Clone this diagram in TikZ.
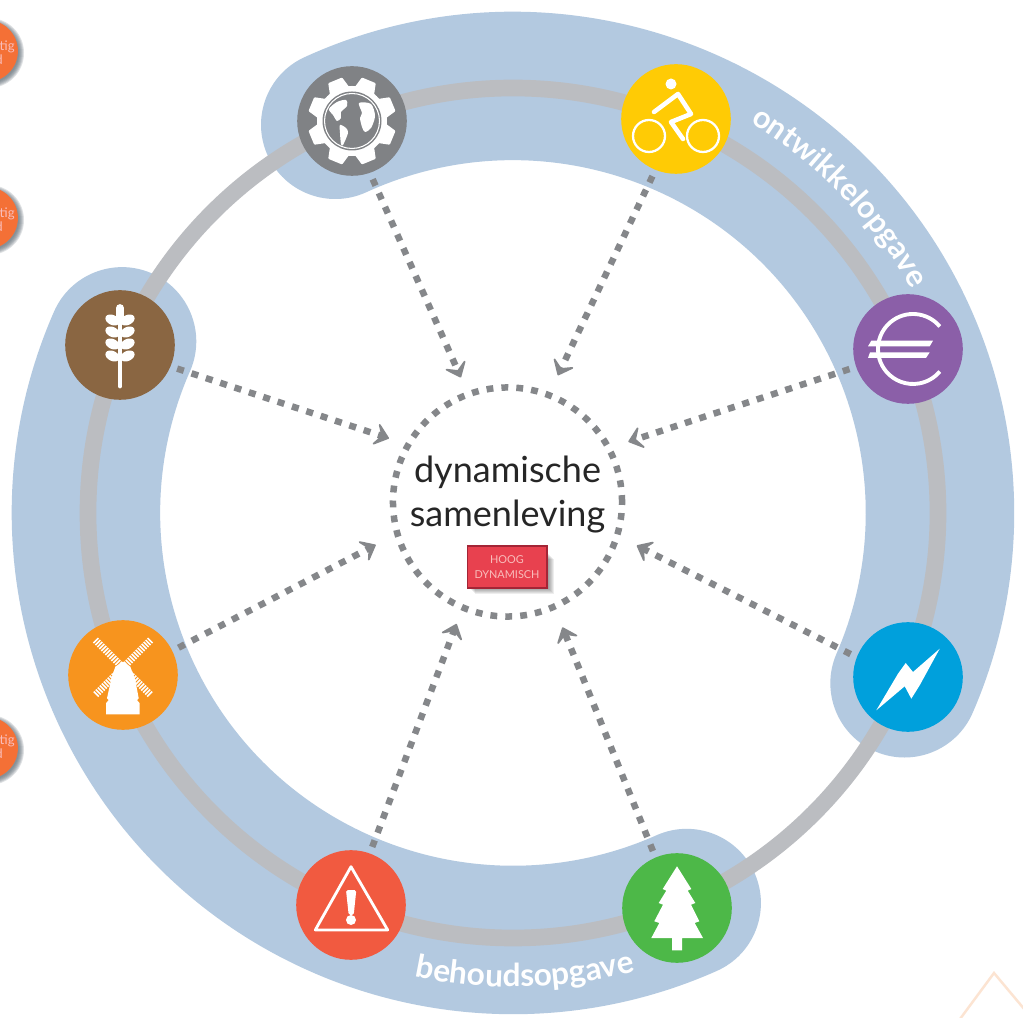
\documentclass[tikz,border=0pt]{standalone}
\usepackage{fontspec}
\setmainfont{Lato}
\usetikzlibrary{arrows.meta,decorations.text}
\definecolor{bandc}{HTML}{B3C9E0}
\definecolor{ringc}{HTML}{BBBDC1}
\definecolor{dashc}{HTML}{85878A}
\definecolor{cgray}{HTML}{808285}
\definecolor{cyellow}{HTML}{FFCB05}
\definecolor{cpurple}{HTML}{8B5FA8}
\definecolor{cblue}{HTML}{00A0DC}
\definecolor{cgreen}{HTML}{4DB848}
\definecolor{cred}{HTML}{F15A40}
\definecolor{corange}{HTML}{F7941E}
\definecolor{cbrown}{HTML}{8A6642}
\definecolor{sideor}{HTML}{F47036}
\definecolor{sideshade}{HTML}{5F6B75}
\definecolor{boxred}{HTML}{E8414F}
\definecolor{boxline}{HTML}{A32536}
\definecolor{boxtext}{HTML}{F9BDBB}
\definecolor{tri}{HTML}{FCE4D2}
\tikzset{
  band/.style={draw=bandc,line width=84.5pt,line cap=round},
  ring/.style={draw=ringc,line width=9.5pt},
  icon/.style={circle,fill=#1,minimum size=62.4pt,inner sep=0pt,outer sep=0pt},
  hubc/.style={circle,draw=dashc,line width=3.7pt,dash pattern=on 3.9pt off 4.6pt,minimum size=130.4pt,inner sep=0pt,outer sep=0pt},
  conn/.style={draw=dashc,line width=3.7pt,dash pattern=on 4pt off 4.6pt,shorten <=4pt,shorten >=#1,
    -{Stealth[length=9.5pt,width=15.5pt,inset=4.6pt,round,line width=1pt]}},
  side/.style={circle,fill=sideor,minimum size=35.2pt,inner sep=0pt,outer sep=0pt},
  sidetext/.style={text=boxtext,font=\fontsize{7.5}{7.5}\selectfont,inner sep=0pt,anchor=base east},
}
\begin{document}
\begin{tikzpicture}[x=0.02cm,y=0.02cm]
\clip (0,0) rectangle (1023,1017);
\fill[white] (0,0) rectangle (1023,1017);
% corner mark
\draw[tri,line width=1.4pt] (960,-2) -- (994,44) -- (1025,7);
% side discs (cut by the edge)
\foreach \yy in {966,799,269}{
  \foreach \r in {35,34,33,32,31,30}{
    \fill[sideshade,opacity=.2] (-11,\yy-2) circle[radius=\r];
  }
}
\node[side] (s1) at (-13,966) {};
\node[side] (s2) at (-13,799) {};
\node[side] (s3) at (-13,269) {};
\node[sidetext] at (15,966) {tig};
\node[sidetext] at (3,952) {d};
\node[sidetext] at (15,799) {tig};
\node[sidetext] at (3,785) {d};
\node[sidetext] at (15,272) {tig};
\node[sidetext] at (3,258) {d};
% bands and ring
\begin{scope}[shift={(513,504)}]
  \draw[band] (114.6:427) arc[start angle=114.6,end angle=-23.5,radius=427];
  \draw[band] (156.3:427) arc[start angle=156.3,end angle=294,radius=427];
  \draw[ring] (0,0) circle[radius=425];
  \path[decorate,decoration={text along path,text align=center,text={|\color{white}\bfseries\fontsize{17.5}{17.5}\selectfont|ontwikkelopgave}}]
    (66:457) arc[start angle=66,end angle=22,radius=457];
  \path[decorate,decoration={text along path,text align=center,text={|\color{white}\bfseries\fontsize{18}{18}\selectfont|behoudsopgave}}]
    (250:474) arc[start angle=250,end angle=293,radius=474];
\end{scope}
% icons
\node[icon=cgray]   (gray)   at (352,896) {};
\node[icon=cyellow] (yellow) at (676,898) {};
\node[icon=cpurple] (purple) at (908,668) {};
\node[icon=cblue]   (blue)   at (908,340) {};
\node[icon=cgreen]  (green)  at (677,109) {};
\node[icon=cred]    (red)    at (351,112) {};
\node[icon=corange] (orange) at (123,342) {};
\node[icon=cbrown]  (brown)  at (120,672) {};
% hub
\node[hubc] (hub) at (507.5,515) {};
\node[align=center,font=\fontsize{20.5}{25.5}\selectfont,text=black!85,inner sep=0pt] (hubtext) at (507.5,522.5) {dynamische\\samenleving};
\foreach \d in {0,1,2,3,4,5}{
  \fill[black,opacity=.07] (470+\d,466-\d-3) rectangle (549+\d,428-\d);
}
\node[draw=boxline,line width=.7pt,fill=boxred,minimum width=45.4pt,minimum height=23.8pt,inner sep=0pt,align=center,text=boxtext,font=\fontsize{6.2}{8.5}\selectfont] (box) at (507,450) {HOOG\\DYNAMISCH};
% connectors
\draw[conn=10.5pt] (gray.-71) -- (hub.110);
\draw[conn=12.4pt] (yellow.-112) -- (hub.69);
\draw[conn=11.8pt] (purple.199) -- (hub.28);
\draw[conn=12.6pt] (blue.159) -- (hub.-17);
\draw[conn=12.7pt] (green.113) -- (hub.-66);
\draw[conn=10pt] (red.70) -- (hub.-113.5);
\draw[conn=13.9pt] (orange.26) -- (hub.196.5);
\draw[conn=11.6pt] (brown.-23) -- (hub.150);
% gear and globe
\begin{scope}[shift={(gray.center)}]
  \foreach \a in {22.5,67.5,...,337.5}{
    \fill[white,rotate=\a,rounded corners=.5pt] (30,-11) -- (44,-7.5) -- (44,7.5) -- (30,11) -- cycle;
  }
  \fill[white] (0,0) circle[radius=35];
  \fill[cgray] (0,0) circle[radius=29.5];
  \draw[white,line width=.6pt] (0,0) circle[radius=27.5];
  \fill[white] plot[smooth cycle] coordinates {(-23,12) (-15,19) (-6,21) (-5,15) (-11,9) (-11,3) (-15,0) (-19,6)};
  \fill[white] plot[smooth cycle] coordinates {(-12,-4) (-6,-7) (-4,-12) (-9,-24) (-11,-23) (-12,-12)};
  \fill[white] plot[smooth cycle] coordinates {(7,18) (19,17) (23,5) (19,-7) (13,-11) (10,-6) (8,3) (10,8)};
\end{scope}
% bicycle
\begin{scope}[shift={(yellow.center)},white]
  \fill (-5,35) circle[radius=5.5];
  \draw[line width=1.3pt] (-27,-17) circle[radius=16];
  \draw[line width=1.3pt] (27,-17) circle[radius=16];
  \draw[line width=2.6pt,line cap=round,line join=round] (-22,7) -- (2,25) -- (15,5) -- (-5,-3) -- (7,-20);
\end{scope}
% euro
\begin{scope}[shift={(purple.center)},white]
  \draw[line width=2.2pt] (31.8,22.5) arc[start angle=40,end angle=320,radius=35];
  \fill (-36.7,8.3) -- (25,8.3) -- (21.7,2.7) -- (-40,2.7) -- cycle;
  \fill (-38,-3.3) -- (21.7,-3.3) -- (18,-9) -- (-40,-9) -- cycle;
\end{scope}
% lightning
\begin{scope}[shift={(blue.center)}]
  \fill[white] (31.7,28.3) -- (5,5) -- (-2.3,14) -- (-10,3.3) -- (-31.7,-33.3) -- (-3.3,-9.3) -- (3.3,-21.7) -- (11.7,-8.3) -- cycle;
\end{scope}
% tree
\begin{scope}[shift={(green.center)}]
  \fill[white] (0,41.7) -- (14.3,19) -- (10.7,17.3) -- (18.3,5) -- (14,3.3) -- (22.3,-13.3) -- (17.7,-15) -- (26,-30) -- (5,-30) -- (5,-42.3) -- (-5,-42.3) -- (-5,-30) -- (-25.7,-30) -- (-17.7,-15) -- (-22.7,-13.3) -- (-14,3.3) -- (-18.3,5) -- (-10.7,17.3) -- (-14.3,19) -- cycle;
\end{scope}
% warning
\begin{scope}[shift={(red.center)}]
  \draw[white,line width=1.6pt,line join=round] (0,38.3) -- (-35.7,-25) -- (36.7,-25) -- cycle;
  \fill[white,rounded corners=1pt] (-5,15) -- (5.3,15) -- (2.7,-10) -- (-2.3,-10) -- cycle;
  \fill[white] (0,-15) circle[radius=5];
\end{scope}
% windmill
\begin{scope}[shift={(orange.center)}]
  \draw[white,line width=4pt,dash pattern=on .9pt off .7pt] (-27.7,35) -- (27.7,-20);
  \draw[white,line width=4pt,dash pattern=on .9pt off .7pt] (27.7,35) -- (-27.7,-20);
  \fill[white] (0,13.3) -- (7.3,8.3) -- (12.3,-5) -- (15.7,-23.3) -- (14,-25) -- (16.7,-28.3) -- (16.7,-39.3) -- (-17,-39.3) -- (-17,-28.3) -- (-14.3,-25) -- (-16,-23.3) -- (-12,-5) -- (-7.7,8.3) -- cycle;
\end{scope}
% wheat
\begin{scope}[shift={(brown.center)},white]
  \draw[line width=2.8pt,line cap=round] (0,-41) -- (0,30);
  \draw[line width=4.4pt,line cap=round] (0,27) -- (0,37);
  \foreach \yy in {25,13,1,-11}{
    \fill[rotate around={25:(7.5,\yy)}] (7.5,\yy) ellipse[x radius=7.5,y radius=5];
    \fill[rotate around={-25:(-7.5,\yy)}] (-7.5,\yy) ellipse[x radius=7.5,y radius=5];
  }
\end{scope}
\end{tikzpicture}
\end{document}
